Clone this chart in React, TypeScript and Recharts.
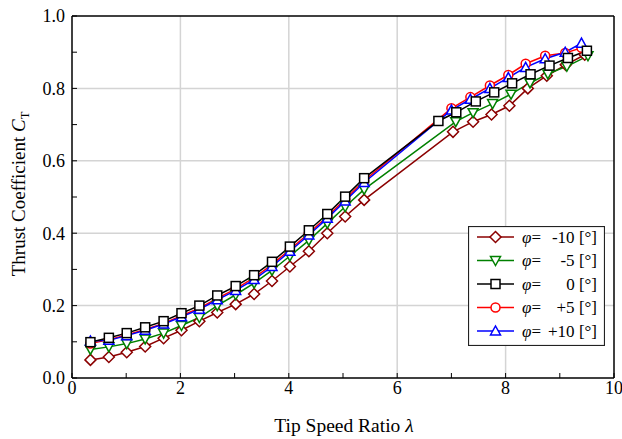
import React from 'react';
import { LineChart, Line, XAxis, YAxis, ReferenceLine, Legend } from 'recharts';

const FONT = 'Liberation Serif';

// tip speed ratio of the low-speed sweep, shared by all five pitch settings
const lambdaLow = [0.34, 0.68, 1.01, 1.35, 1.69, 2.02, 2.35, 2.68, 3.02, 3.36, 3.69, 4.02, 4.37, 4.71, 5.04, 5.39];

const lambdaM10 = [...lambdaLow, 7.03, 7.4, 7.74, 8.07, 8.41, 8.76, 9.11, 9.46];
const ctM10 = [0.05, 0.058, 0.071, 0.087, 0.11, 0.132, 0.157, 0.181, 0.204, 0.232, 0.268, 0.308, 0.35, 0.4, 0.446, 0.492, 0.68, 0.708, 0.728, 0.752, 0.8, 0.835, 0.865, 0.893];

const lambdaM5 = [...lambdaLow, 7.08, 7.4, 7.76, 8.1, 8.45, 8.78, 9.13, 9.52];
const ctM5 = [0.079, 0.086, 0.095, 0.108, 0.124, 0.145, 0.167, 0.2, 0.23, 0.262, 0.297, 0.337, 0.38, 0.427, 0.473, 0.521, 0.708, 0.733, 0.758, 0.784, 0.815, 0.84, 0.861, 0.89];

const lambda0 = [...lambdaLow, 6.76, 7.09, 7.45, 7.79, 8.12, 8.46, 8.81, 9.15, 9.5];
const ct0 = [0.099, 0.111, 0.124, 0.14, 0.157, 0.179, 0.2, 0.228, 0.254, 0.284, 0.321, 0.363, 0.408, 0.453, 0.501, 0.552, 0.71, 0.734, 0.764, 0.789, 0.814, 0.839, 0.863, 0.884, 0.904];

const lambdaP = [...lambdaLow, 7.0, 7.35, 7.71, 8.05, 8.37, 8.73, 9.1, 9.4];
const ctP5 = [0.095, 0.106, 0.119, 0.134, 0.151, 0.172, 0.193, 0.22, 0.246, 0.277, 0.313, 0.355, 0.4, 0.446, 0.494, 0.545, 0.745, 0.776, 0.808, 0.837, 0.868, 0.89, 0.898, 0.912];
const ctP10 = [0.102, 0.104, 0.117, 0.132, 0.149, 0.169, 0.19, 0.216, 0.242, 0.272, 0.308, 0.35, 0.395, 0.441, 0.489, 0.54, 0.74, 0.77, 0.8, 0.83, 0.858, 0.882, 0.9, 0.925];

const xTicks = [0, 1, 2, 3, 4, 5, 6, 7, 8, 9, 10];
const yTicks = [0, 0.1, 0.2, 0.3, 0.4, 0.5, 0.6, 0.7, 0.8, 0.9, 1.0];
const xGrid = [2, 4, 6, 8];
const yGrid = [0.2, 0.4, 0.6, 0.8];

const toPoints = (xs: number[], ys: number[]) => xs.map((x, i) => ({ x, y: ys[i] }));

const series = [
  { key: 'm10', value: '-10', color: '#8B0000', shape: 'diamond', data: toPoints(lambdaM10, ctM10) },
  { key: 'm5', value: '-5', color: '#008000', shape: 'down', data: toPoints(lambdaM5, ctM5) },
  { key: 'p5', value: '+5', color: '#ff0000', shape: 'circle', data: toPoints(lambdaP, ctP5) },
  { key: 'p10', value: '+10', color: '#0000ff', shape: 'up', data: toPoints(lambdaP, ctP10) },
  { key: 'z0', value: '0', color: '#000000', shape: 'square', data: toPoints(lambda0, ct0) },
];
// legend keeps the original order
const legendOrder = ['m10', 'm5', 'z0', 'p5', 'p10'];

const Marker = ({ shape, cx, cy, color }: any) => {
  const common = { fill: '#fff', stroke: color, strokeWidth: 1.5 };
  switch (shape) {
    case 'diamond':
      return <polygon points={`${cx},${cy - 5.5} ${cx + 5.5},${cy} ${cx},${cy + 5.5} ${cx - 5.5},${cy}`} {...common} />;
    case 'down':
      return <polygon points={`${cx - 5},${cy - 4} ${cx + 5},${cy - 4} ${cx},${cy + 5}`} {...common} />;
    case 'up':
      return <polygon points={`${cx - 5},${cy + 4} ${cx + 5},${cy + 4} ${cx},${cy - 5}`} {...common} />;
    case 'circle':
      return <circle cx={cx} cy={cy} r={4.5} {...common} />;
    default:
      return <rect x={cx - 4.5} y={cy - 4.5} width={9} height={9} {...common} />;
  }
};

const dotFor = (s: any) => (props: any) => {
  const { cx, cy, index } = props;
  if (cx == null || cy == null) return <g key={`${s.key}-${index}`} />;
  return (
    <g key={`${s.key}-${index}`}>
      <Marker shape={s.shape} cx={cx} cy={cy} color={s.color} />
    </g>
  );
};

const renderLegend = () => (
  <svg width={137} height={120} style={{ display: 'block' }}>
    <rect x={0.5} y={0.5} width={136} height={119} fill="#fff" stroke="#222" strokeWidth={1.2} />
    {legendOrder.map((k, i) => {
      const s = series.find(d => d.key === k)!;
      const cy = 11 + i * 23.5;
      return (
        <g key={k}>
          <line x1={9} x2={46} y1={cy} y2={cy} stroke={s.color} strokeWidth={1.5} />
          <Marker shape={s.shape} cx={27.5} cy={cy} color={s.color} />
          <text x={54} y={cy + 5.5} style={{ fontFamily: FONT }} fontSize={17} fill="#000">
            <tspan fontStyle="italic">φ</tspan>=
          </text>
          <text x={129} y={cy + 5.5} style={{ fontFamily: FONT }} fontSize={17} fill="#000" textAnchor="end">
            {s.value} [°]
          </text>
        </g>
      );
    })}
  </svg>
);

const XTitle = () => (
  <text x={344} y={432} textAnchor="middle" style={{ fontFamily: FONT }} fontSize={19.5} fill="#000">
    Tip Speed Ratio <tspan fontStyle="italic">λ</tspan>
  </text>
);

const YTitle = () => (
  <text x={25} y={194} transform="rotate(-90 25 194)" textAnchor="middle" style={{ fontFamily: FONT }} fontSize={19} fill="#000">
    Thrust Coefficient <tspan fontStyle="italic">C</tspan>
    <tspan fontSize={12.5} dy={4}>T</tspan>
  </text>
);

const tickStyle = { fill: '#000', fontSize: 18, fontFamily: FONT, style: { fontFamily: FONT } };

const App = () => {
  return (
    <div style={{ position: 'fixed', left: 0, top: 0, width: 622, height: 439, background: '#fff', fontFamily: FONT }}>
      <LineChart width={622} height={439} margin={{ top: 16, right: 8, left: 0, bottom: 21 }} style={{ fontFamily: FONT }}>
        <XAxis
          dataKey="x"
          type="number"
          domain={[0, 10]}
          ticks={xTicks}
          interval={0}
          tickFormatter={(v: number) => (v % 2 === 0 ? String(v) : '')}
          tick={tickStyle}
          axisLine={{ stroke: '#000', strokeWidth: 1.5 }}
          tickLine={{ stroke: '#000' }}
          tickSize={-5}
          tickMargin={8}
          height={40}
          label={{ content: <XTitle /> }}
        />
        <YAxis
          type="number"
          domain={[0, 1]}
          ticks={yTicks}
          interval={0}
          tickFormatter={(v: number) => (Math.round(v * 10) % 2 === 0 ? v.toFixed(1) : '')}
          tick={tickStyle}
          axisLine={{ stroke: '#000', strokeWidth: 1.5 }}
          tickLine={{ stroke: '#000' }}
          tickSize={-5}
          tickMargin={12}
          width={72}
          label={{ content: <YTitle /> }}
        />

        {xGrid.map(v => (
          <ReferenceLine key={`gx-${v}`} x={v} stroke="#d4d4d4" strokeWidth={1.5} />
        ))}
        {yGrid.map(v => (
          <ReferenceLine key={`gy-${v}`} y={v} stroke="#d4d4d4" strokeWidth={1.5} />
        ))}
        <ReferenceLine x={10} stroke="#000" strokeWidth={1.5} />
        <ReferenceLine y={1} stroke="#000" strokeWidth={1.5} />

        {series.map(s => (
          <Line
            key={s.key}
            data={s.data}
            dataKey="y"
            type="linear"
            stroke={s.color}
            strokeWidth={1.5}
            dot={dotFor(s)}
            activeDot={false}
            isAnimationActive={false}
          />
        ))}

        <Legend
          layout="horizontal"
          verticalAlign="middle"
          align="center"
          content={renderLegend}
          wrapperStyle={{ left: 468, top: 226, width: 137, height: 120 }}
        />
      </LineChart>
    </div>
  );
};

export default App;
